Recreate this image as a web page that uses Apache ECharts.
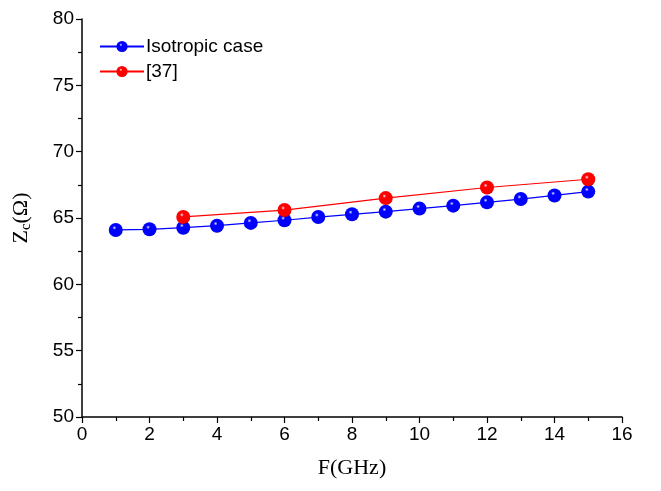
<!DOCTYPE html>
<html>
<head>
<meta charset="utf-8">
<script src="https://cdn.jsdelivr.net/npm/echarts@6/dist/echarts.min.js"></script>
<style>
  html, body { margin: 0; padding: 0; background: #fff; }
  #chart { width: 661px; height: 491px; }
</style>
</head>
<body>
<div id="chart"></div>
<script>
// Frequency points (GHz) and characteristic impedance values (Ohm)
const freqIso = [1, 2, 3, 4, 5, 6, 7, 8, 9, 10, 11, 12, 13, 14, 15];
const zcIso = [64.10, 64.15, 64.27, 64.42, 64.63, 64.83, 65.07, 65.28, 65.48, 65.71, 65.93, 66.18, 66.43, 66.70, 66.99];
const freqRef = [3, 6, 9, 12, 15];
const zcRef = [65.08, 65.60, 66.50, 67.30, 67.92];
const seriesNames = ['Isotropic case', '[37]'];

function ball(base, dark) {
  return {
    type: 'radial', x: 0.4, y: 0.35, r: 0.7,
    colorStops: [
      { offset: 0, color: '#e8e8ff' },
      { offset: 0.2, color: base },
      { offset: 0.85, color: base },
      { offset: 1, color: dark }
    ]
  };
}

const chart = echarts.init(document.getElementById('chart'));
const tickFont = { fontFamily: 'Liberation Sans, Arial, sans-serif', fontSize: 19, color: '#000' };

chart.setOption({
  animation: false,
  grid: { left: 82, right: 39, top: 19, bottom: 74, containLabel: false },
  legend: {
    left: 94, top: 32, orient: 'vertical',
    itemWidth: 44, itemHeight: 14, itemGap: 6,
    textStyle: { fontFamily: 'Liberation Sans, Arial, sans-serif', fontSize: 19, color: '#000', padding: [0, 0, 0, -3] },
    data: seriesNames
  },
  xAxis: {
    type: 'value', min: 0, max: 16, interval: 2,
    name: 'F(GHz)', nameLocation: 'middle', nameGap: 40,
    nameTextStyle: { fontFamily: 'Liberation Serif, Times New Roman, serif', fontSize: 22, color: '#000' },
    axisLine: { show: true, lineStyle: { color: '#000', width: 1.5 } },
    axisTick: { show: true, inside: false, length: 6, lineStyle: { color: '#000', width: 1.2 } },
    minorTick: { show: true, splitNumber: 2, length: 4, lineStyle: { color: '#000', width: 1.2 } },
    axisLabel: Object.assign({ margin: 8 }, tickFont),
    splitLine: { show: false }
  },
  yAxis: {
    type: 'value', min: 50, max: 80, interval: 5,
    name: '{z|Z}{s|c}{z|(Ω)}', nameLocation: 'middle', nameGap: 48, nameRotate: 90,
    nameTextStyle: {
      fontFamily: 'Liberation Serif, Times New Roman, serif', fontSize: 22, color: '#000',
      rich: {
        z: { fontFamily: 'Liberation Serif, Times New Roman, serif', fontSize: 22, color: '#000' },
        s: { fontFamily: 'Liberation Serif, Times New Roman, serif', fontSize: 15, color: '#000', padding: [10, 0, 0, 0] }
      }
    },
    axisLine: { show: true, lineStyle: { color: '#000', width: 1.5 } },
    axisTick: { show: true, inside: false, length: 6, lineStyle: { color: '#000', width: 1.2 } },
    minorTick: { show: true, splitNumber: 2, length: 4, lineStyle: { color: '#000', width: 1.2 } },
    axisLabel: Object.assign({ margin: 8 }, tickFont),
    splitLine: { show: false }
  },
  series: [
    {
      name: seriesNames[0], type: 'line',
      data: freqIso.map((f, i) => [f, zcIso[i]]),
      symbol: 'circle', symbolSize: 14,
      lineStyle: { color: '#0000ff', width: 1.2 },
      itemStyle: { color: ball('#0000ff', '#00008a') }
    },
    {
      name: seriesNames[1], type: 'line',
      data: freqRef.map((f, i) => [f, zcRef[i]]),
      symbol: 'circle', symbolSize: 14,
      lineStyle: { color: '#ff0000', width: 1.2 },
      itemStyle: { color: ball('#ff0000', '#8a0000') }
    }
  ]
});
</script>
</body>
</html>
